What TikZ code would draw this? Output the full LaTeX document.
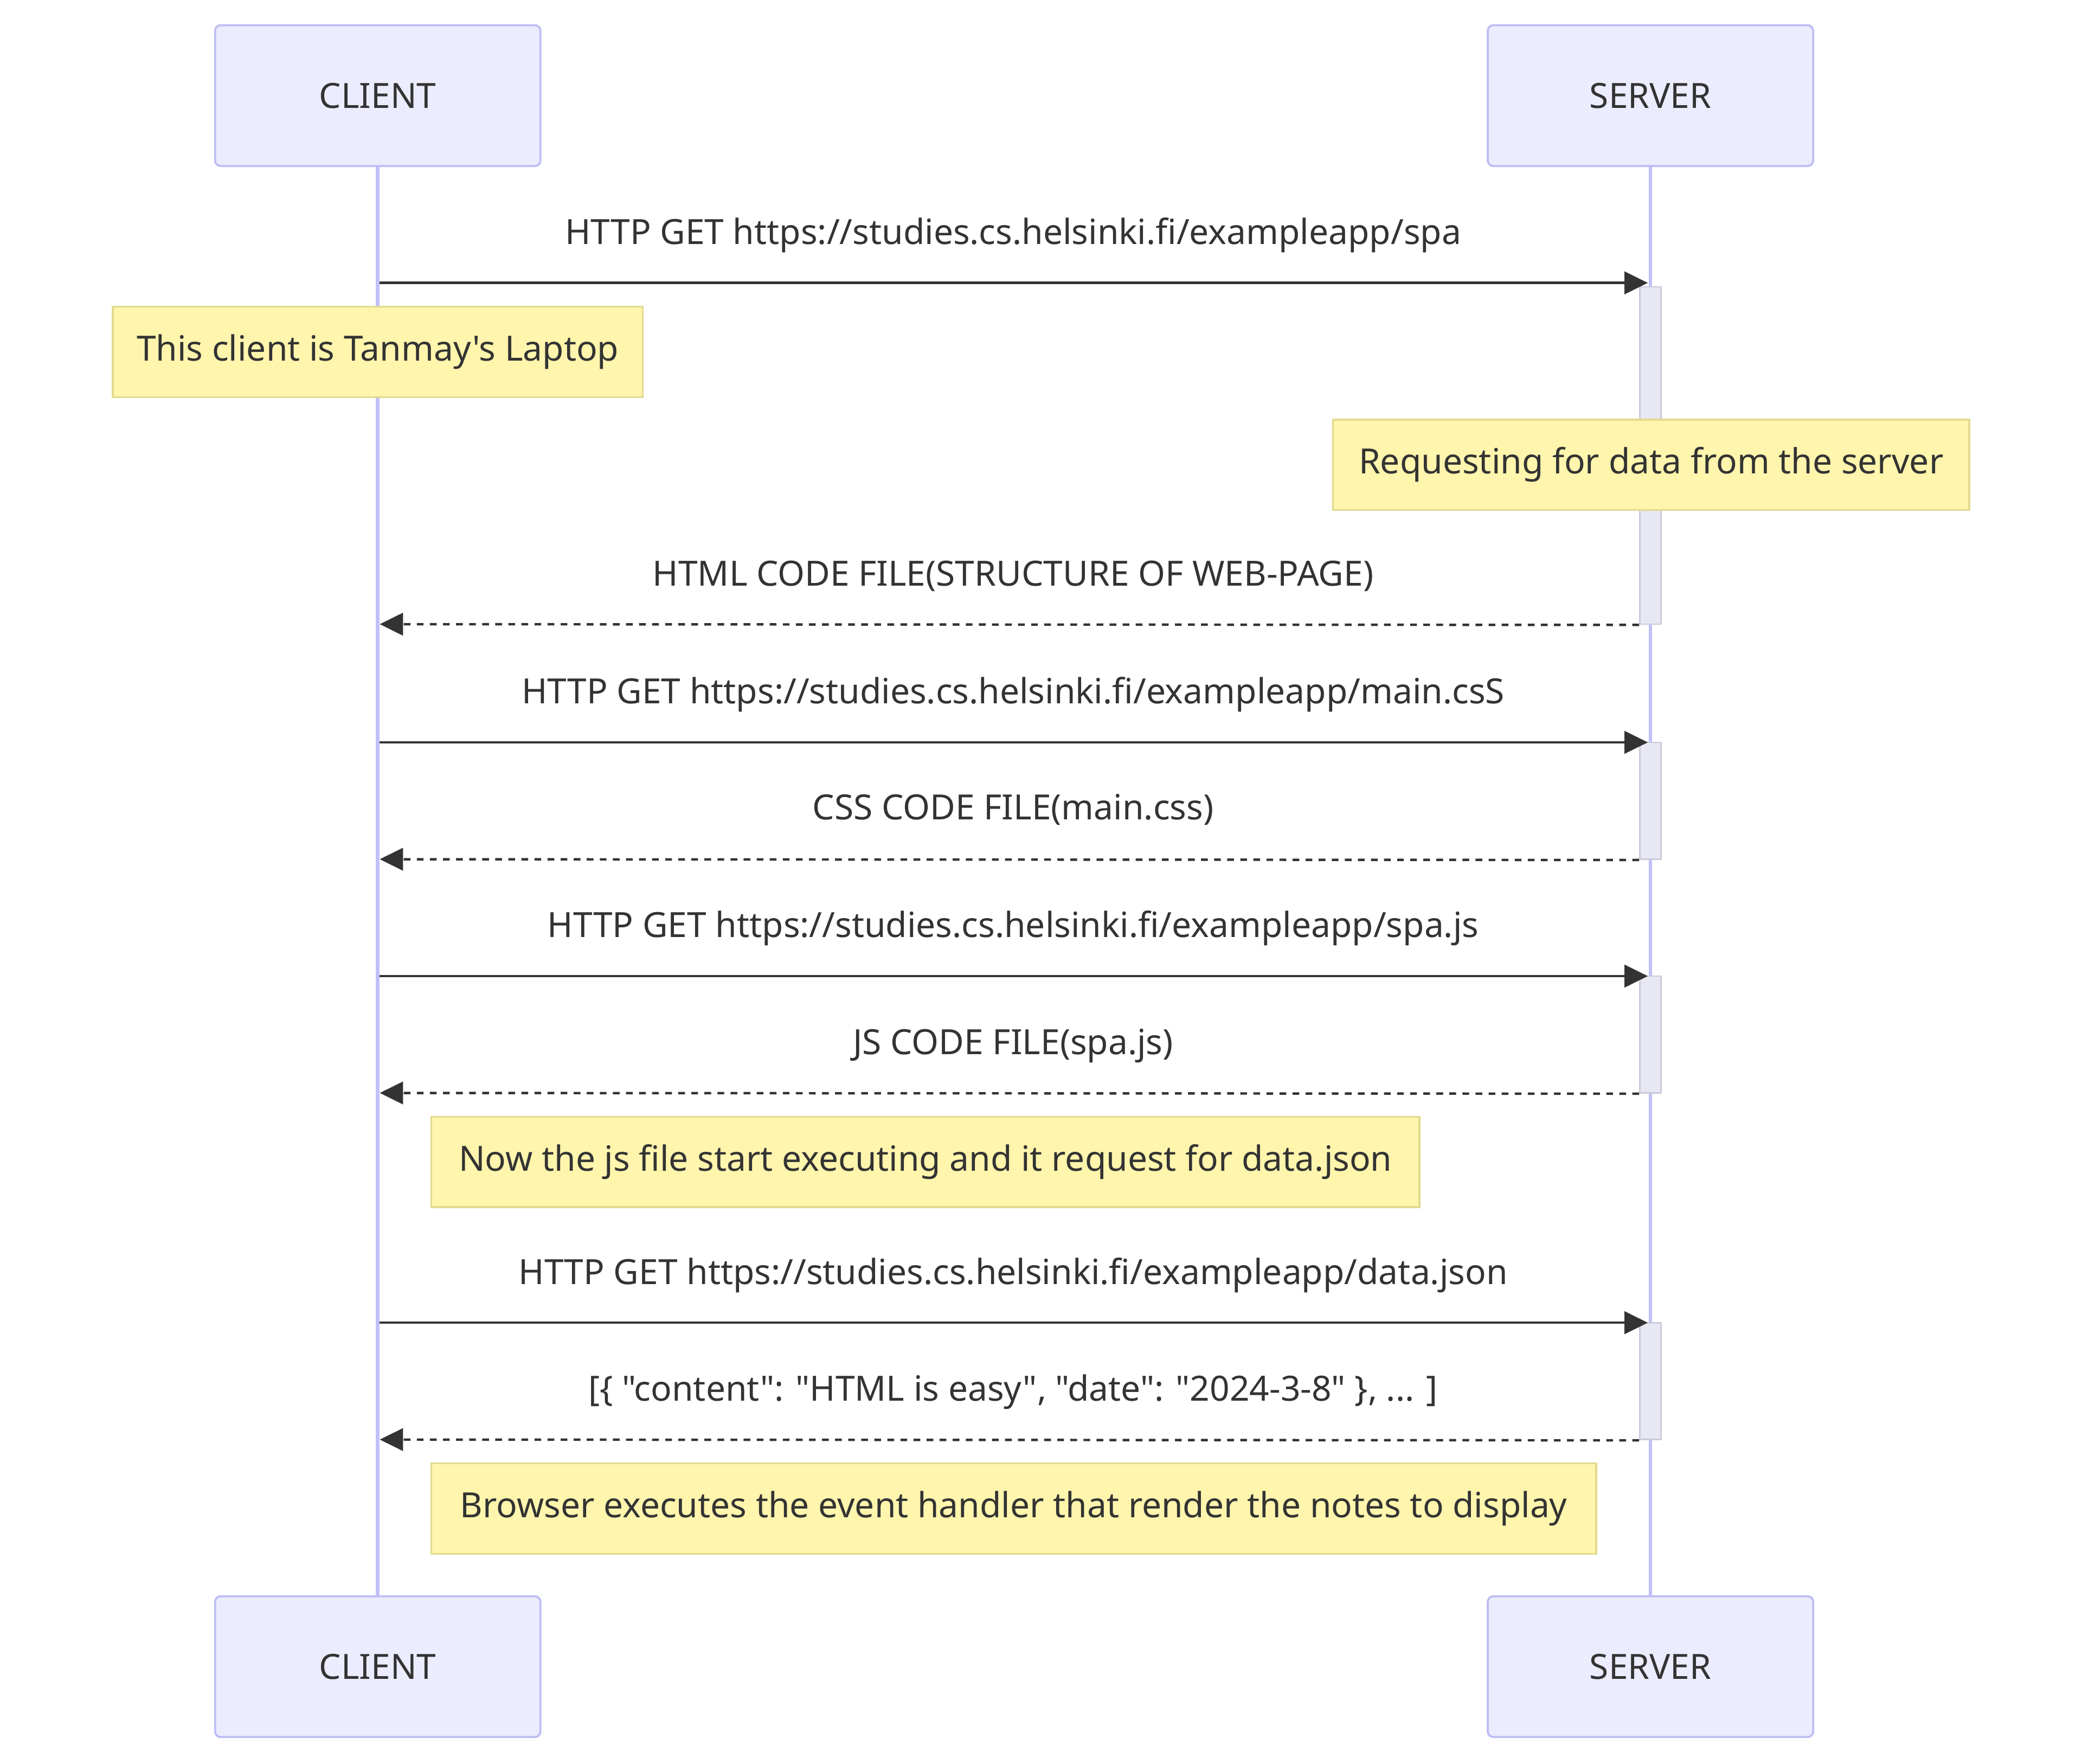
\documentclass[tikz,border=0pt]{standalone}
\usepackage{fontspec}
\setmainfont{Noto Sans}[Ligatures=TeXOff]
\usetikzlibrary{arrows.meta}
\definecolor{actorfill}{HTML}{ECECFF}
\definecolor{actorline}{HTML}{BDBDF5}
\definecolor{lifeline}{HTML}{C0C0FA}
\definecolor{notefill}{HTML}{FFF5AD}
\definecolor{noteline}{HTML}{E3DA8E}
\definecolor{actfill}{HTML}{E8E8F2}
\definecolor{actline}{HTML}{CACADC}
\definecolor{ink}{HTML}{333333}
\begin{document}
\begin{tikzpicture}[x=0.025cm,y=-0.025cm,
  every node/.style={font=\fontsize{18.6pt}{22pt}\selectfont, text=ink},
  actor/.style={draw=actorline, fill=actorfill, line width=1.1pt, rounded corners=3pt,
    minimum width=6.125cm, minimum height=2.65cm, inner sep=0pt},
  note/.style={draw=noteline, fill=notefill, line width=1pt, minimum height=1.7cm, inner sep=0pt},
  activation/.style={draw=actline, fill=actfill, line width=0.8pt, minimum width=0.4cm, inner sep=0pt},
  life/.style={draw=lifeline, line width=1.9pt},
  msg/.style={draw=ink, line width=1.3pt, -{Triangle[length=12.5pt,width=12pt]}},
  reply/.style={msg, dash pattern=on 3.6pt off 3.4pt},
  label/.style={inner sep=0pt, anchor=base}
]
\useasboundingbox (0,0) rectangle (1568,1328);

% participants
\node[actor] (ctop) at (284.5,72) {\raisebox{-0.05cm}{CLIENT}};
\node[actor] (stop) at (1243,72) {\raisebox{-0.05cm}{SERVER}};
\node[actor] (cbot) at (284.5,1255) {\raisebox{-0.05cm}{CLIENT}};
\node[actor] (sbot) at (1243,1255) {\raisebox{-0.05cm}{SERVER}};

% lifelines
\draw[life] (ctop.south) -- (cbot.north);
\draw[life] (stop.south) -- (sbot.north);

% activations on the server
\node[activation, minimum height=6.35cm] (act1) at (1243,343) {};
\node[activation, minimum height=2.2cm] (act2) at (1243,603) {};
\node[activation, minimum height=2.2cm] (act3) at (1243,779) {};
\node[activation, minimum height=2.2cm] (act4) at (1243,1040) {};

% anchor points on the lifelines
\coordinate (c1) at (286,213);   \coordinate (s1) at (1241,213);
\coordinate (c2) at (286,470);
\coordinate (c3) at (286,559);   \coordinate (s3) at (1241,559);
\coordinate (c4) at (286,647);
\coordinate (c5) at (286,735);   \coordinate (s5) at (1241,735);
\coordinate (c6) at (286,823);
\coordinate (c7) at (286,996);   \coordinate (s7) at (1241,996);
\coordinate (c8) at (286,1084);

% messages
\node[label] (m1) at (763,184) {HTTP GET https://studies.cs.helsinki.fi/exampleapp/spa};
\draw[msg] (c1) -- (s1);

\node[note, minimum width=9.975cm] (n1) at (284.5,265) {This client is Tanmay's Laptop};
\node[note, minimum width=11.975cm] (n2) at (1243.5,350) {Requesting for data from the server};

\node[label] (m2) at (763,441) {HTML CODE FILE(STRUCTURE OF WEB-PAGE)};
\draw[reply] (act1.south west) -- (c2);

\node[label] (m3) at (763,530) {HTTP GET https://studies.cs.helsinki.fi/exampleapp/main.csS};
\draw[msg] (c3) -- (s3);

\node[label] (m4) at (763,617) {CSS CODE FILE(main.css)};
\draw[reply] (act2.south west) -- (c4);

\node[label] (m5) at (763,706) {HTTP GET https://studies.cs.helsinki.fi/exampleapp/spa.js};
\draw[msg] (c5) -- (s5);

\node[label] (m6) at (763,794) {JS CODE FILE(spa.js)};
\draw[reply] (act3.south west) -- (c6);

\node[note, minimum width=18.6cm] (n3) at (697,875) {Now the js file start executing and it request for data.json};

\node[label] (m7) at (763,967) {HTTP GET https://studies.cs.helsinki.fi/exampleapp/data.json};
\draw[msg] (c7) -- (s7);

\node[label] (m8) at (763,1055) {[\{ "content": "HTML is easy", "date": "2024-3-8" \}, ... ]};
\draw[reply] (act4.south west) -- (c8);

\node[note, minimum width=21.925cm] (n4) at (763.5,1136) {Browser executes the event handler that render the notes to display};
\end{tikzpicture}
\end{document}
